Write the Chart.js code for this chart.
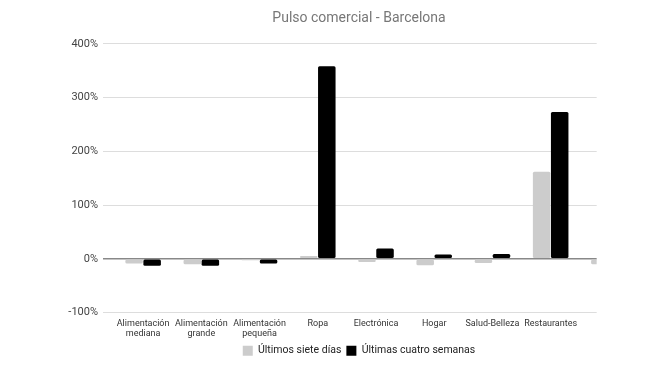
<!DOCTYPE html>
<html>
<head>
<meta charset="utf-8">
<script src="https://cdn.jsdelivr.net/npm/chart.js@4/dist/chart.umd.min.js"></script>
<style>
html,body{margin:0;padding:0;background:#fff;}
#wrap{width:671px;height:387px;position:relative;}
</style>
</head>
<body>
<div id="wrap"><canvas id="c" width="671" height="387"></canvas></div>
<script>
const categories = [
  ["Alimentación", "mediana"],
  ["Alimentación", "grande"],
  ["Alimentación", "pequeña"],
  "Ropa",
  "Electrónica",
  "Hogar",
  "Salud-Belleza",
  "Restaurantes",
  ""
];
const seriesNames = ["Últimos siete días", "Últimas cuatro semanas"];
const ultimosSieteDias = [-9, -10, -3, 5, -6, -12, -8, 162, -10];
const ultimasCuatroSemanas = [-13, -13, -9, 358, 19, 8, 9, 273, null];
const yTicks = [-100, 0, 100, 200, 300, 400];

const clipPlugin = {
  id: 'rightClip',
  beforeDraw(chart) {
    const xs = chart.scales.x;
    const w = xs.width / categories.length;
    const clipX = xs.getPixelForValue(categories.length - 1) - 0.21 * w;
    const ctx = chart.ctx;
    ctx.save();
    ctx.beginPath();
    ctx.rect(0, 0, clipX, chart.height);
    ctx.clip();
  },
  afterDraw(chart) {
    chart.ctx.restore();
  }
};

new Chart(document.getElementById('c'), {
  type: 'bar',
  data: {
    labels: categories,
    datasets: [
      {
        label: seriesNames[0],
        data: ultimosSieteDias,
        backgroundColor: '#cccccc',
        borderRadius: 1.5,
        borderSkipped: false,
        categoryPercentage: 0.62,
        barPercentage: 0.97
      },
      {
        label: seriesNames[1],
        data: ultimasCuatroSemanas,
        backgroundColor: '#000000',
        borderRadius: 1.5,
        borderSkipped: false,
        categoryPercentage: 0.62,
        barPercentage: 0.97
      }
    ]
  },
  options: {
    responsive: false,
    animation: false,
    devicePixelRatio: 1,
    layout: { padding: { left: 80, right: 33, top: 0, bottom: 21 } },
    plugins: {
      title: {
        display: true,
        text: 'Pulso comercial - Barcelona',
        color: '#777777',
        font: { family: 'Roboto', size: 14, weight: 'normal' },
        padding: { top: 10, bottom: 17 }
      },
      legend: {
        position: 'bottom',
        labels: {
          color: '#222222',
          font: { family: 'Roboto', size: 10.5 },
          boxWidth: 10,
          boxHeight: 10,
          padding: 5
        }
      },
      tooltip: { enabled: false }
    },
    scales: {
      x: {
        afterFit(scale) {
          scale.height = 28;
          scale._computeLabelArea = () => undefined;
        },
        grid: { display: false, drawTicks: false },
        border: { display: false },
        ticks: {
          color: '#333333',
          font: { family: 'Roboto', size: 9, lineHeight: 1.1 },
          padding: 6,
          maxRotation: 0,
          autoSkip: false
        }
      },
      y: {
        min: -100,
        max: 400,
        afterBuildTicks(scale) { scale.ticks = yTicks.map(v => ({ value: v })); },
        afterFit(scale) {
          scale.width = 34;
          scale._computeLabelArea = () => undefined;
        },
        border: { display: false },
        grid: {
          color: (ctx) => (ctx.tick && ctx.tick.value === 0) ? '#888888' : '#dddddd',
          lineWidth: (ctx) => (ctx.tick && ctx.tick.value === 0) ? 1.5 : 1,
          tickLength: 11
        },
        ticks: {
          color: '#444444',
          font: { family: 'Roboto', size: 11 },
          padding: 5,
          callback: (v) => v + '%'
        }
      }
    }
  },
  plugins: [clipPlugin]
});
</script>
</body>
</html>
